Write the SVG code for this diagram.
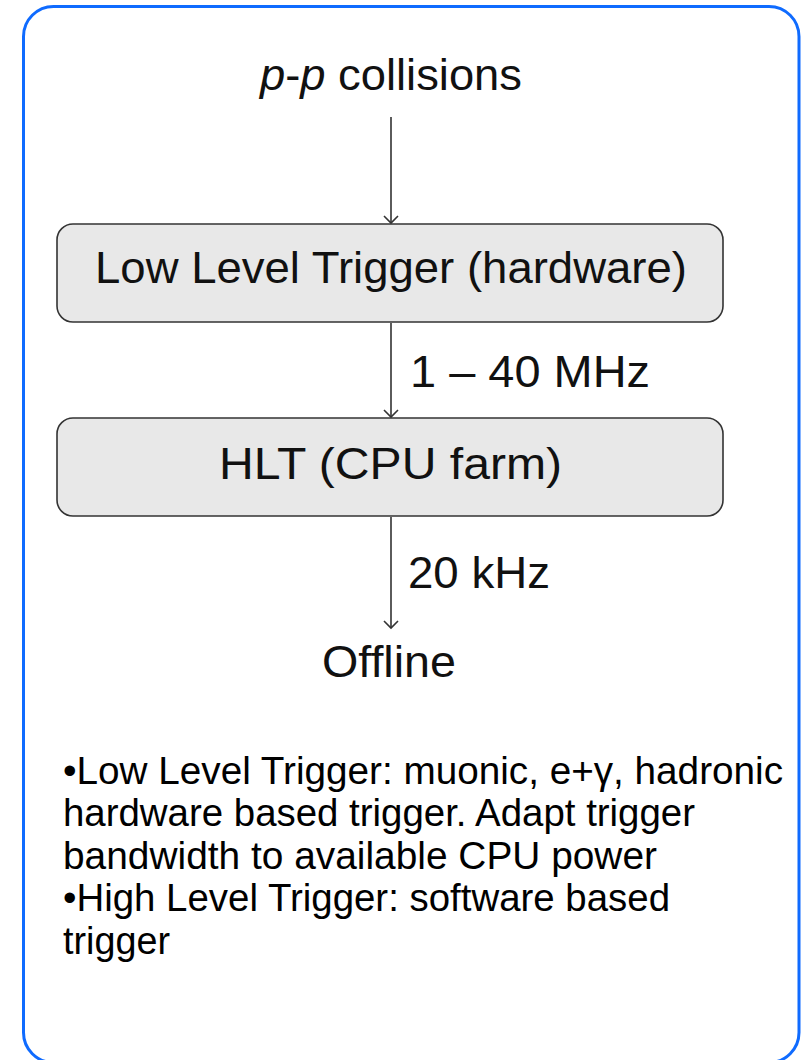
<svg xmlns="http://www.w3.org/2000/svg" width="805" height="1060" viewBox="0 0 805 1060">
  <defs>
    <style>
      .lbl { font-family: "Liberation Sans", "DejaVu Sans", sans-serif; font-size: 44px; fill: #111; }
      .box { fill: #e8e8e8; stroke: #333; stroke-width: 1.6; }
      .conn { stroke: #333; stroke-width: 1.6; fill: none; }
      .note { font-family: "Liberation Sans", Arial, sans-serif; font-size: 38px; fill: #000; }
    </style>
    <marker id="arr" markerUnits="userSpaceOnUse" markerWidth="20" markerHeight="20" viewBox="-10 -10 20 20" refX="0" refY="0" orient="auto">
      <path d="M-7,-7 L0,0 L-7,7" fill="none" stroke="#333" stroke-width="1.6"/>
    </marker>
  </defs>
  <rect id="frame" x="23.5" y="6.5" width="775.5" height="1056" rx="30" ry="30" fill="#fff" stroke="#0f6bff" stroke-width="3"/>

  <g id="source">
    <text class="lbl" x="260" y="90" textLength="262" lengthAdjust="spacingAndGlyphs"><tspan font-style="italic">p</tspan>-<tspan font-style="italic">p</tspan> collisions</text>
  </g>

  <g id="llt">
    <rect class="box" x="57" y="224" width="666" height="98" rx="16" ry="16"/>
    <text class="lbl" x="95" y="283" textLength="592" lengthAdjust="spacingAndGlyphs">Low Level Trigger (hardware)</text>
  </g>

  <g id="hlt">
    <rect class="box" x="57" y="418" width="666" height="98" rx="16" ry="16"/>
    <text class="lbl" x="219" y="479" textLength="343" lengthAdjust="spacingAndGlyphs">HLT (CPU farm)</text>
  </g>

  <g id="offline">
    <text class="lbl" x="322" y="677" textLength="134" lengthAdjust="spacingAndGlyphs">Offline</text>
  </g>

  <g id="connectors">
    <line class="conn" x1="391" y1="117" x2="391" y2="223" marker-end="url(#arr)"/>
    <line class="conn" x1="391" y1="323" x2="391" y2="417" marker-end="url(#arr)"/>
    <text class="lbl" x="410" y="387" textLength="240" lengthAdjust="spacingAndGlyphs">1 – 40 MHz</text>
    <line class="conn" x1="391" y1="517" x2="391" y2="628" marker-end="url(#arr)"/>
    <text class="lbl" x="408" y="588" textLength="142" lengthAdjust="spacingAndGlyphs">20 kHz</text>
  </g>

  <g id="notes">
    <text class="note" x="63" y="784" textLength="720" lengthAdjust="spacingAndGlyphs">•Low Level Trigger: muonic, e+γ, hadronic</text>
    <text class="note" x="63" y="826" textLength="632" lengthAdjust="spacingAndGlyphs">hardware based trigger. Adapt trigger</text>
    <text class="note" x="63" y="869" textLength="594" lengthAdjust="spacingAndGlyphs">bandwidth to available CPU power</text>
    <text class="note" x="63" y="911" textLength="607" lengthAdjust="spacingAndGlyphs">•High Level Trigger: software based</text>
    <text class="note" x="63" y="954" textLength="107" lengthAdjust="spacingAndGlyphs">trigger</text>
  </g>
</svg>
